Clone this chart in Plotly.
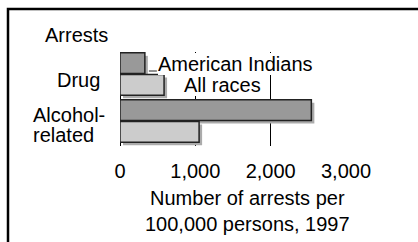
import plotly.graph_objects as go

# ---- data ----
categories = ["Alcohol-related", "Drug"]
american_indians = [2540, 330]
all_races = [1050, 585]
x_ticks = [0, 1000, 2000, 3000]
x_tick_labels = ["0", "1,000", "2,000", "3,000"]

# ---- layout constants (pixels) ----
W, H = 418, 242
L, R, T, B = 120, 346, 52, 146
FONT = "Liberation Sans, Arial, sans-serif"
FS = 20


def px_x(p):
    return (p - L) / (R - L)


def px_y(p):
    return (B - p) / (B - T)


bar_w = 0.44
gap = 0.01
shadow_dx = 40       # data units (~3 px)
shadow_dy = 0.064    # category units (~3 px)
shadow_col = "#ababab"
edge = dict(color="#222222", width=1.5)

fig = go.Figure()
# shadows
fig.add_trace(go.Bar(y=categories, x=american_indians, base=shadow_dx, orientation="h",
                     offset=gap - shadow_dy, width=bar_w,
                     marker=dict(color=shadow_col, line=dict(width=0)), showlegend=False))
fig.add_trace(go.Bar(y=categories, x=all_races, base=shadow_dx, orientation="h",
                     offset=-gap - bar_w - shadow_dy, width=bar_w,
                     marker=dict(color=shadow_col, line=dict(width=0)), showlegend=False))
# bars
fig.add_trace(go.Bar(y=categories, x=american_indians, orientation="h", name="American Indians",
                     offset=gap, width=bar_w,
                     marker=dict(color="#999999", line=edge), showlegend=False))
fig.add_trace(go.Bar(y=categories, x=all_races, orientation="h", name="All races",
                     offset=-gap - bar_w, width=bar_w,
                     marker=dict(color="#cccccc", line=edge), showlegend=False))

ann = []
txt = dict(font=dict(family=FONT, size=FS, color="black"), showarrow=False)
# series labels with white boxes
ann.append(dict(text="American Indians", x=american_indians[1], y="Drug", xref="x", yref="y",
                xanchor="left", yanchor="middle", xshift=13, yshift=10.5,
                bgcolor="white", borderpad=0, borderwidth=0, **txt))
ann.append(dict(text="All races", x=all_races[1], y="Drug", xref="x", yref="y",
                xanchor="left", yanchor="middle", xshift=20, yshift=-11,
                bgcolor="white", borderpad=0, borderwidth=0, **txt))
# category labels
ann.append(dict(text="Arrests", x=px_x(76.5), y=px_y(35), xref="paper", yref="paper",
                xanchor="center", yanchor="middle", **txt))
ann.append(dict(text="Drug", x=0, y="Drug", xref="paper", yref="y",
                xanchor="right", yanchor="middle", xshift=-18, yshift=-6, **txt))
ann.append(dict(text="Alcohol-", x=0, y="Alcohol-related", xref="paper", yref="y",
                xanchor="left", yanchor="middle", xshift=-89, yshift=6.5, **txt))
ann.append(dict(text="related", x=0, y="Alcohol-related", xref="paper", yref="y",
                xanchor="left", yanchor="middle", xshift=-89, yshift=-13.5, **txt))
# axis title
ann.append(dict(text="Number of arrests per<br>100,000 persons, 1997", x=px_x(247), y=0,
                xref="paper", yref="paper", xanchor="center", yanchor="middle",
                yshift=-(211 - B), **txt))

shapes = [
    # leader from the bar to its label
    dict(type="line", xref="x", yref="y", xsizemode="pixel", ysizemode="pixel",
         xanchor=american_indians[1], yanchor=1, x0=4, x1=12, y0=3, y1=3,
         line=dict(color="#222222", width=1)),
    # frame (top and left)
    dict(type="path", xref="paper", yref="paper",
         path=f"M {px_x(8)},{px_y(250)} L {px_x(8)},{px_y(9)} L {px_x(425)},{px_y(9)}",
         line=dict(color="black", width=2.5)),
]

fig.update_layout(
    width=W, height=H,
    margin=dict(l=L, r=W - R, t=T, b=H - B, pad=0),
    paper_bgcolor="white", plot_bgcolor="white",
    barmode="overlay",
    font=dict(family=FONT, size=FS, color="black"),
    annotations=ann, shapes=shapes,
    xaxis=dict(range=[0, 3000], tickvals=x_ticks, ticktext=x_tick_labels,
               showgrid=True, gridcolor="black", gridwidth=1,
               zeroline=True, zerolinecolor="black", zerolinewidth=1,
               showline=False, ticks="", ticklabelstandoff=11,
               tickfont=dict(family=FONT, size=FS, color="black"), fixedrange=True),
    yaxis=dict(type="category", categoryorder="array", categoryarray=categories,
               range=[-0.532, 1.468], showgrid=False, zeroline=False,
               showticklabels=False, ticks="", showline=False, fixedrange=True),
)

fig.write_html("out.html", config={"displayModeBar": False},
               post_script="document.body.style.margin='0';document.body.style.overflow='hidden';")
